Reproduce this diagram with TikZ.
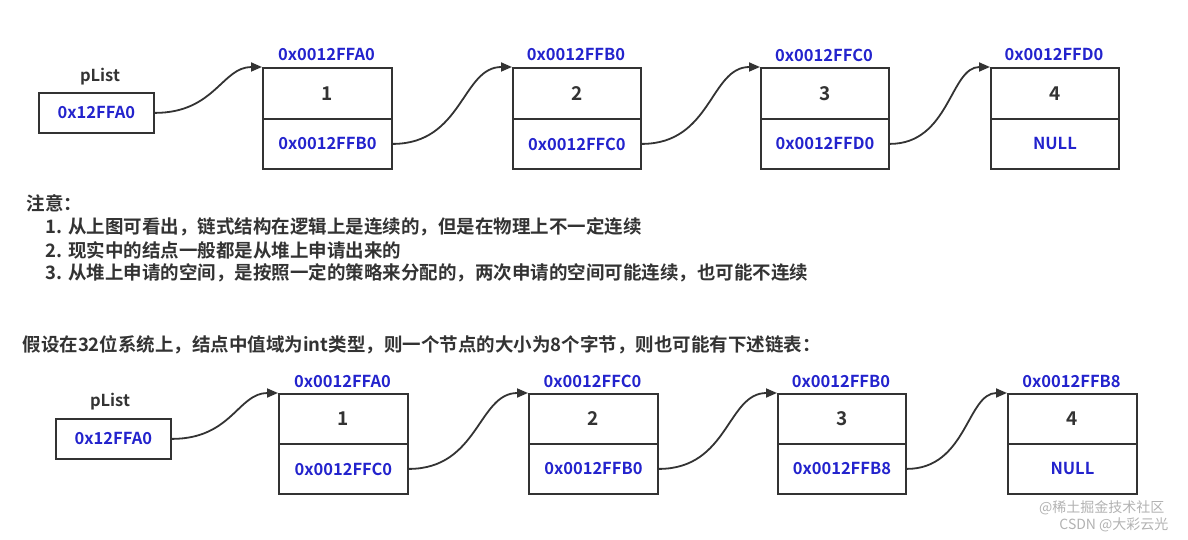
\documentclass[tikz,border=0pt]{standalone}
\usepackage{fontspec}
\setmainfont{Noto Sans CJK SC}[BoldFont={* Bold}]
\usetikzlibrary{arrows.meta}
\definecolor{addr}{RGB}{35,35,205}
\definecolor{ink}{RGB}{51,51,51}
\begin{document}
\begin{tikzpicture}[x=1pt,y=-1pt,
  box/.style={draw=ink,line width=1.8pt,fill=white,inner sep=0pt},
  adr/.style={text=addr,font=\bfseries\fontsize{16.5}{18}\selectfont},
  num/.style={text=ink,font=\bfseries\fontsize{19}{21}\selectfont},
  lbl/.style={text=ink,font=\bfseries\fontsize{16.5}{18}\selectfont},
  note/.style={text=ink,font=\bfseries\fontsize{18.5}{20}\selectfont,anchor=west},
  link/.style={draw=ink,line width=1.8pt,-{Triangle[length=11pt,width=9pt]}}]
\useasboundingbox (0,0) rectangle (1188,540);
% ===== top row
\node[box,minimum width=115,minimum height=40,anchor=north west,adr] (p1) at (38,92) {0x12FFA0};
\node[lbl] at (100,77) {pList};
\foreach \n/\xa/\xb/\v/\nx/\ad in {a/262/391/1/0x0012FFB0/0x0012FFA0,b/512/640/2/0x0012FFC0/0x0012FFB0,c/760/888/3/0x0012FFD0/0x0012FFC0,d/990/1118/4/NULL/0x0012FFD0}{
  \node[box,minimum width={\xb-\xa},minimum height=51,anchor=north west,num] (\n t) at (\xa,67) {\v};
  \node[box,minimum width={\xb-\xa},minimum height=50,anchor=north west,adr] (\n b) at (\xa,118) {\nx};
  \node[adr] at ({(\xa+\xb)/2},55) {\ad};
}
\draw[link] (p1.east) .. controls +(60,0) and +(-40,0) .. (at.north west);
\draw[link] (ab.east) .. controls +(70,0) and +(-50,0) .. (bt.north west);
\draw[link] (bb.east) .. controls +(70,0) and +(-50,0) .. (ct.north west);
\draw[link] (cb.east) .. controls +(60,0) and +(-40,0) .. (dt.north west);
% ===== notes
\node[note] (n0) at (23,203) {注意：};
\node[note] (n1) at (42,227) {1. 从上图可看出，链式结构在逻辑上是连续的，但是在物理上不一定连续};
\node[note] (n2) at (42,250) {2. 现实中的结点一般都是从堆上申请出来的};
\node[note] (n3) at (42,273) {3. 从堆上申请的空间，是按照一定的策略来分配的，两次申请的空间可能连续，也可能不连续};
\node[note] (h) at (19,345) {假设在32位系统上，结点中值域为int类型，则一个节点的大小为8个字节，则也可能有下述链表：};
% ===== bottom row
\node[box,minimum width=115,minimum height=40,anchor=north west,adr] (p2) at (55,418) {0x12FFA0};
\node[lbl] at (110,402) {pList};
\foreach \n/\xa/\xb/\v/\nx/\ad in {e/278/407/1/0x0012FFC0/0x0012FFA0,f/528/657/2/0x0012FFB0/0x0012FFC0,g/777/905/3/0x0012FFB8/0x0012FFB0,h/1007/1136/4/NULL/0x0012FFB8}{
  \node[box,minimum width={\xb-\xa},minimum height=50,anchor=north west,num] (\n t) at (\xa,393) {\v};
  \node[box,minimum width={\xb-\xa},minimum height=50,anchor=north west,adr] (\n b) at (\xa,443) {\nx};
  \node[adr] at ({(\xa+\xb)/2},381) {\ad};
}
\draw[link] (p2.east) .. controls +(60,0) and +(-40,0) .. (et.north west);
\draw[link] (eb.east) .. controls +(70,0) and +(-50,0) .. (ft.north west);
\draw[link] (fb.east) .. controls +(70,0) and +(-50,0) .. (gt.north west);
\draw[link] (gb.east) .. controls +(60,0) and +(-40,0) .. (ht.north west);
% watermark
\node[text=black!30,font=\fontsize{14}{15}\selectfont,anchor=east] (w1) at (1168,508) {@稀土掘金技术社区};
\node[text=black!30,font=\fontsize{14}{15}\selectfont,anchor=east] (w2) at (1172,525) {CSDN @大彩云光};
\end{tikzpicture}
\end{document}
